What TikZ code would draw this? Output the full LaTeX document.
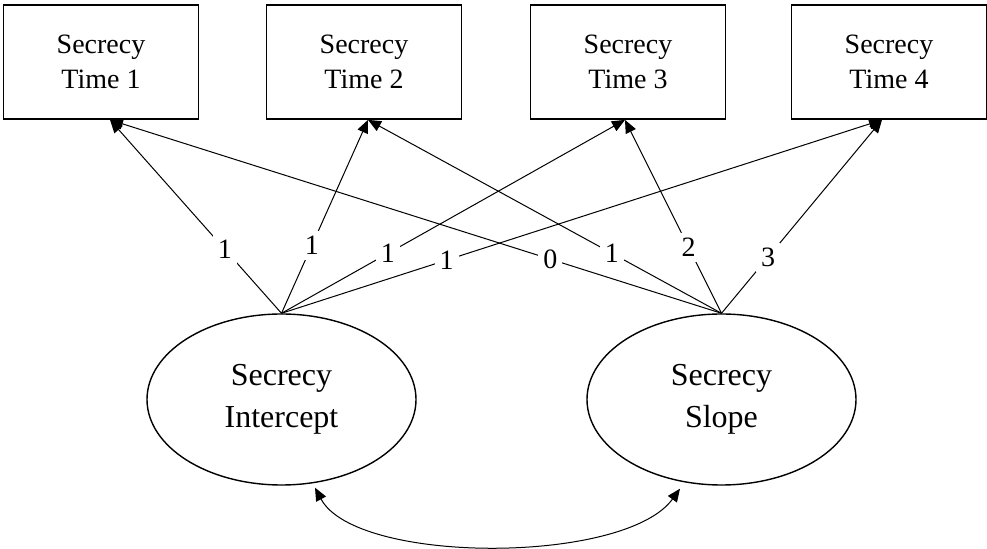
\documentclass[tikz,border=0pt]{standalone}
\usepackage{fontspec}
\setmainfont{Liberation Serif}
\usetikzlibrary{arrows.meta,shapes.geometric}

\begin{document}
\begin{tikzpicture}[x=0.5pt, y=0.5pt, >={Triangle[length=6.5pt,width=5.5pt]},
    obs/.style={draw, line width=0.9pt, minimum width=97.5pt, minimum height=57pt,
        align=center, font=\fontsize{14pt}{17.5pt}\selectfont},
    lat/.style={draw, ellipse, line width=0.7pt, minimum width=134.5pt, minimum height=85.5pt,
        inner sep=0pt, align=center, font=\fontsize{16pt}{21pt}\selectfont},
    lbl/.style={fill=white, inner sep=2.5pt, font=\fontsize{14pt}{14pt}\selectfont}]
    \useasboundingbox (0,0) rectangle (987,-549);

    % observed measures
    \node[obs] (t1) at (101,-62) {Secrecy\\Time 1};
    \node[obs] (t2) at (364,-62) {Secrecy\\Time 2};
    \node[obs] (t3) at (628,-62) {Secrecy\\Time 3};
    \node[obs] (t4) at (889,-62) {Secrecy\\Time 4};

    % growth factors
    \node[lat] (int) at (281.5,-399.5) {Secrecy\\Intercept};
    \node[lat] (slope) at (721.5,-399.5) {Secrecy\\Slope};

    % intercept loadings
    \draw[->, line width=0.5pt] (int.north) -- node[lbl, pos=0.33] {1} ([xshift=4.5pt]t1.south);
    \draw[->, line width=0.5pt] (int.north) -- node[lbl, pos=0.35] {1} ([xshift=2pt]t2.south);
    \draw[->, line width=0.5pt] (int.north) -- node[lbl, pos=0.31] {1} ([xshift=-1.5pt]t3.south);
    \draw[->, line width=0.5pt] (int.north) -- node[lbl, pos=0.275] {1} ([xshift=-3.5pt]t4.south);

    % slope loadings
    \draw[->, line width=0.5pt] (slope.north) -- node[lbl, pos=0.28] {0} ([xshift=4.5pt]t1.south);
    \draw[->, line width=0.5pt] (slope.north) -- node[lbl, pos=0.31] {1} ([xshift=2pt]t2.south);
    \draw[->, line width=0.5pt] (slope.north) -- node[lbl, pos=0.34] {2} ([xshift=-1.5pt]t3.south);
    \draw[->, line width=0.5pt] (slope.north) -- node[lbl, pos=0.29] {3} ([xshift=-3.5pt]t4.south);

    % covariance
    \draw[<->, line width=0.5pt] ([xshift=16.75pt, yshift=-1pt]int.south)
        .. controls +(41,-77) and +(-55,-76) .. ([xshift=-20.75pt, yshift=-1.5pt]slope.south);
\end{tikzpicture}
\end{document}
